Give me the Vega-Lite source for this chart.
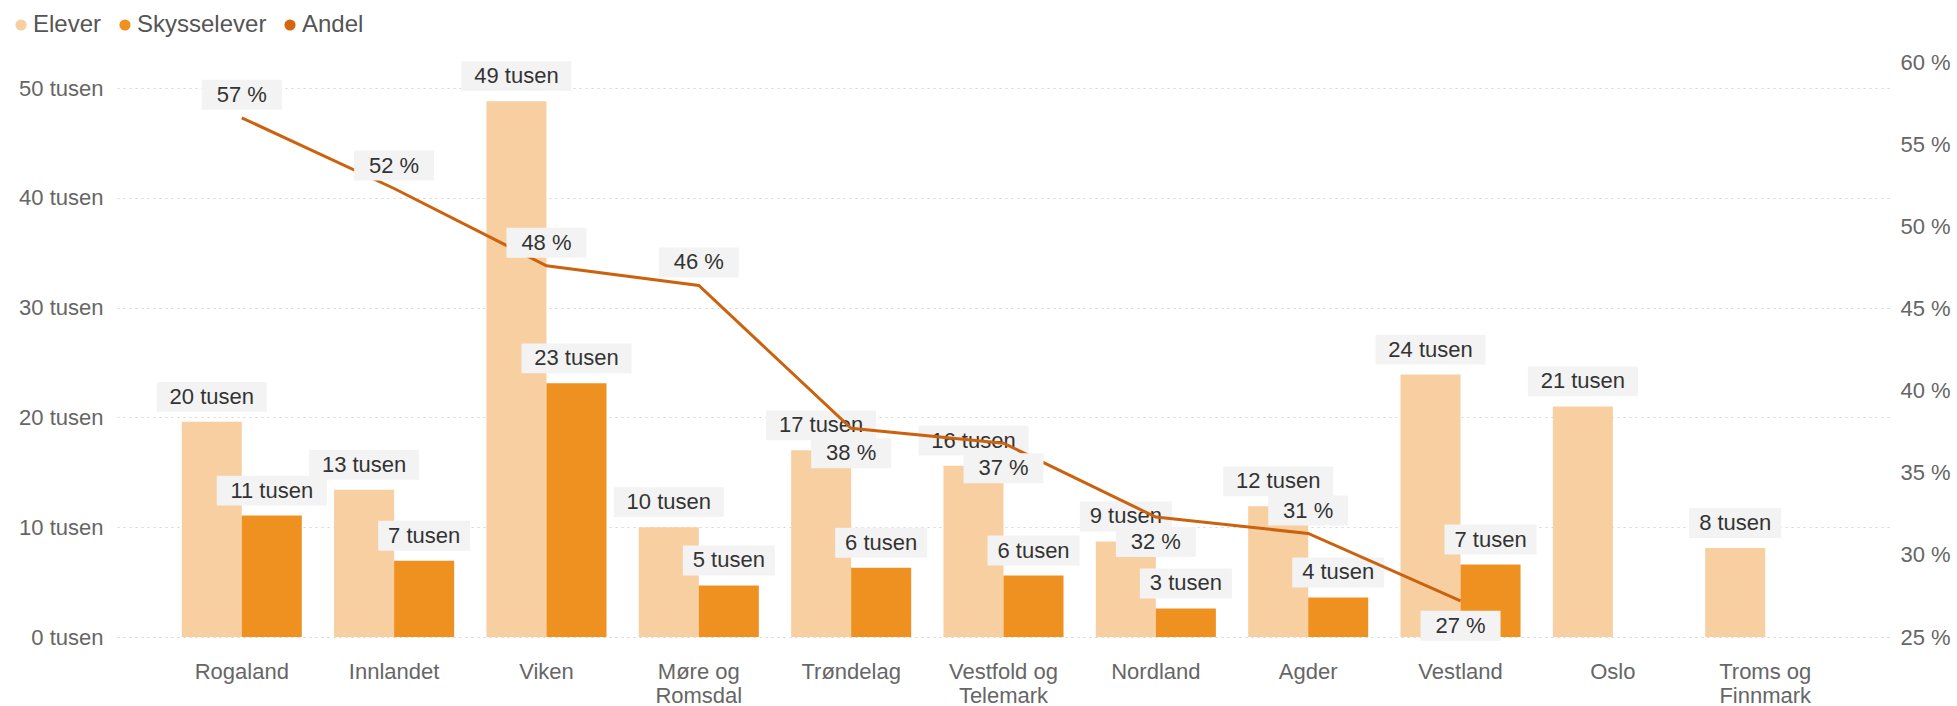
{
  "$schema": "https://vega.github.io/schema/vega-lite/v6.json",
  "width": 1773,
  "height": 575,
  "autosize": {"type": "none"},
  "padding": {"left": 117, "top": 62, "right": 67, "bottom": 69},
  "config": {
    "font": "Liberation Sans",
    "view": {"stroke": null},
    "text": {"font": "Liberation Sans"}
  },
  "data": {
    "values": [
      {"fylke": "Rogaland", "Elever": 19600, "Skysselever": 11060, "andel": 0.566},
      {"fylke": "Innlandet", "Elever": 13400, "Skysselever": 6950, "andel": 0.523},
      {"fylke": "Viken", "Elever": 48800, "Skysselever": 23100, "andel": 0.476},
      {"fylke": "Møre og Romsdal", "Elever": 10000, "Skysselever": 4700, "andel": 0.464},
      {"fylke": "Trøndelag", "Elever": 17000, "Skysselever": 6300, "andel": 0.377},
      {"fylke": "Vestfold og Telemark", "Elever": 15600, "Skysselever": 5600, "andel": 0.368},
      {"fylke": "Nordland", "Elever": 8700, "Skysselever": 2600, "andel": 0.323},
      {"fylke": "Agder", "Elever": 11900, "Skysselever": 3600, "andel": 0.313},
      {"fylke": "Vestland", "Elever": 23900, "Skysselever": 6600, "andel": 0.272},
      {"fylke": "Oslo", "Elever": 21000, "Skysselever": null, "andel": null},
      {"fylke": "Troms og Finnmark", "Elever": 8100, "Skysselever": null, "andel": null}
    ]
  },
  "encoding": {
    "x": {
      "field": "fylke",
      "type": "nominal",
      "sort": null,
      "scale": {"paddingInner": 0.212, "paddingOuter": 0.425},
      "axis": {
        "title": null,
        "labelAngle": 0,
        "labelFontSize": 22,
        "labelColor": "#666666",
        "labelPadding": 24,
        "labelBaseline": "top",
        "labelLineHeight": 24,
        "labelOverlap": false,
        "domain": false,
        "ticks": false,
        "labelExpr": "indexof(datum.label, ' og ') > 0 ? [substring(datum.label, 0, indexof(datum.label, ' og ') + 3), substring(datum.label, indexof(datum.label, ' og ') + 4)] : datum.label"
      }
    }
  },
  "layer": [
    {
      "transform": [
        {"fold": ["Elever", "Skysselever"], "as": ["serie", "antall"]},
        {"filter": "isValid(datum.antall)"},
        {"calculate": "format(datum.antall / 1000, '.0f') + ' tusen'", "as": "etikett"}
      ],
      "encoding": {
        "xOffset": {"field": "serie", "type": "nominal", "scale": {"domain": ["Elever", "Skysselever"], "paddingInner": 0, "paddingOuter": 0}},
        "y": {
          "field": "antall",
          "type": "quantitative",
          "scale": {"domain": [0, 52370], "nice": false},
          "axis": {
            "title": null,
            "values": [0, 10000, 20000, 30000, 40000, 50000],
            "labelExpr": "format(datum.value / 1000, '.0f') + ' tusen'",
            "labelFontSize": 22,
            "labelColor": "#666666",
            "labelPadding": 14,
            "domain": false,
            "ticks": false,
            "grid": true,
            "gridColor": "#d4d4d4",
            "gridDash": [2, 4],
            "gridWidth": 1
          }
        }
      },
      "layer": [
        {
          "mark": {"type": "bar"},
          "encoding": {
            "color": {
              "field": "serie",
              "type": "nominal",
              "scale": {"domain": ["Elever", "Skysselever", "Andel"], "range": ["#F7CFA0", "#EF9120", "#D4660F"]},
              "legend": {
                "orient": "none",
                "legendX": -108,
                "legendY": -49,
                "direction": "horizontal",
                "title": null,
                "symbolType": "circle",
                "symbolSize": 125,
                "symbolStrokeWidth": 0,
                "labelFontSize": 24,
                "labelColor": "#555555",
                "labelOffset": 0,
                "columnPadding": 11
              }
            }
          }
        },
        {
          "transform": [{"filter": "datum.antall >= 9500"}],
          "mark": {"type": "point", "shape": "M-1,-0.27H1V0.27H-1Z", "size": 12100, "filled": true, "color": "#f3f3f3", "opacity": 1, "yOffset": -25}
        },
        {
          "transform": [{"filter": "datum.antall < 9500"}],
          "mark": {"type": "point", "shape": "M-1,-0.326H1V0.326H-1Z", "size": 8464, "filled": true, "color": "#f3f3f3", "opacity": 1, "yOffset": -25}
        },
        {
          "mark": {"type": "text", "yOffset": -25, "fontSize": 22, "color": "#333333", "baseline": "middle"},
          "encoding": {"text": {"field": "etikett"}}
        }
      ]
    },
    {
      "transform": [
        {"filter": "isValid(datum.andel)"},
        {"calculate": "format(datum.andel * 100, '.0f') + ' %'", "as": "etikett"}
      ],
      "encoding": {
        "y": {
          "field": "andel",
          "type": "quantitative",
          "scale": {"domain": [0.25, 0.6], "nice": false, "zero": false},
          "axis": {
            "orient": "right",
            "title": null,
            "values": [0.25, 0.3, 0.35, 0.4, 0.45, 0.5, 0.55, 0.6],
            "labelExpr": "format(datum.value * 100, '.0f') + ' %'",
            "labelFontSize": 22,
            "labelColor": "#666666",
            "labelPadding": 10,
            "domain": false,
            "ticks": false,
            "grid": false
          }
        }
      },
      "layer": [
        {"mark": {"type": "line", "color": "#CC620E", "strokeWidth": 3}},
        {
          "transform": [{"filter": "indexof(['Trøndelag', 'Vestfold og Telemark', 'Nordland', 'Vestland'], datum.fylke) < 0"}],
          "mark": {"type": "point", "shape": "M-1,-0.375H1V0.375H-1Z", "size": 6400, "filled": true, "color": "#f3f3f3", "opacity": 1, "yOffset": -23}
        },
        {
          "transform": [{"filter": "indexof(['Trøndelag', 'Vestfold og Telemark', 'Nordland', 'Vestland'], datum.fylke) >= 0"}],
          "mark": {"type": "point", "shape": "M-1,-0.375H1V0.375H-1Z", "size": 6400, "filled": true, "color": "#f3f3f3", "opacity": 1, "yOffset": 25}
        },
        {
          "transform": [{"filter": "indexof(['Trøndelag', 'Vestfold og Telemark', 'Nordland', 'Vestland'], datum.fylke) < 0"}],
          "mark": {"type": "text", "yOffset": -23, "fontSize": 22, "color": "#333333", "baseline": "middle"},
          "encoding": {"text": {"field": "etikett"}}
        },
        {
          "transform": [{"filter": "indexof(['Trøndelag', 'Vestfold og Telemark', 'Nordland', 'Vestland'], datum.fylke) >= 0"}],
          "mark": {"type": "text", "yOffset": 25, "fontSize": 22, "color": "#333333", "baseline": "middle"},
          "encoding": {"text": {"field": "etikett"}}
        }
      ]
    }
  ],
  "resolve": {"scale": {"y": "independent"}}
}
